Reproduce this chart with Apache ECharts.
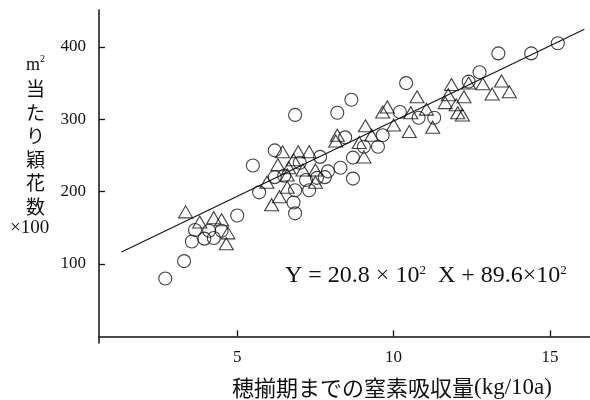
<!DOCTYPE html>
<html>
<head>
<meta charset="utf-8">
<script src="https://cdn.jsdelivr.net/npm/echarts@6/dist/echarts.min.js"></script>
<style>
  html, body { margin: 0; padding: 0; background: #fff; }
  #chart { width: 590px; height: 400px; }
</style>
</head>
<body>
<div id="chart"></div>
<script>
// Nitrogen uptake up to full heading (kg/10a) vs spikelets per m² (×100)
const circlePoints = [
  [2.7, 80], [3.3, 104], [3.55, 131], [3.95, 135], [4.25, 136], [3.65, 147],
  [4.1, 146], [4.5, 146], [5.0, 167], [5.5, 236], [5.7, 199], [6.2, 257],
  [6.2, 220], [6.85, 306], [6.8, 185], [6.85, 170], [6.85, 202], [7.2, 216],
  [7.3, 202], [7.55, 219], [7.65, 248], [7.8, 220], [8.2, 309], [8.3, 233],
  [8.45, 275], [8.65, 327], [8.7, 218], [8.7, 247], [9.05, 262], [9.5, 262],
  [9.65, 278], [10.2, 310], [10.4, 350], [10.8, 302], [11.3, 302], [12.4, 352],
  [12.75, 365], [13.35, 391], [14.4, 391], [15.25, 405], [7.0, 240], [7.9, 228],
  [6.5, 222]
];
const trianglePoints = [
  [3.35, 172], [3.8, 158], [4.25, 164], [4.5, 161], [4.7, 143], [4.65, 128],
  [5.95, 213], [6.1, 182], [6.35, 193], [6.6, 206], [6.3, 237], [6.45, 255],
  [6.65, 233], [6.8, 244], [6.6, 223], [6.95, 255], [7.1, 230], [7.3, 255],
  [7.5, 230], [7.5, 213], [8.15, 270], [8.2, 278], [8.9, 268], [9.1, 291],
  [9.05, 248], [9.3, 278], [9.65, 310], [9.8, 317], [10.0, 292], [10.5, 283],
  [10.55, 309], [10.75, 331], [11.05, 314], [11.25, 289], [11.65, 323],
  [11.75, 334], [11.85, 348], [12.0, 320], [12.05, 309], [12.2, 306],
  [12.25, 331], [12.4, 350], [12.85, 349], [13.15, 335], [13.45, 353], [13.7, 338]
];
// Regression: Y = 20.8×10² X + 89.6×10²  (Y in ×100 units)
const slope = 20.8;
const intercept = 89.6;
const fitRange = [1.3, 16.1];
const xTicks = [5, 10, 15];
const yTicks = [100, 200, 300, 400];

const fitLine = fitRange.map(x => [x, slope * x + intercept]);

const serif = '"Liberation Serif", "DejaVu Serif", serif';
const jp = '"Noto Sans CJK JP", sans-serif';

const chart = echarts.init(document.getElementById('chart'));
chart.setOption({
  animation: false,
  backgroundColor: '#fff',
  grid: { left: 99, top: 10, width: 491, height: 333, containLabel: false },
  xAxis: {
    type: 'value', min: 0.58, max: 16.28,
    axisLine: { show: true, lineStyle: { color: '#111', width: 1.5 } },
    axisTick: { show: true, inside: true, length: 6, customValues: xTicks, lineStyle: { color: '#111', width: 1.3 } },
    axisLabel: { customValues: xTicks, color: '#111', fontFamily: serif, fontSize: 17, margin: 6 },
    splitLine: { show: false }
  },
  yAxis: {
    type: 'value', min: -9.2, max: 451,
    axisLine: { show: true, lineStyle: { color: '#111', width: 1.5 } },
    axisTick: { show: true, inside: true, length: 6, customValues: yTicks, lineStyle: { color: '#111', width: 1.3 } },
    axisLabel: { customValues: yTicks, color: '#111', fontFamily: serif, fontSize: 17, margin: 13 },
    splitLine: { show: false }
  },
  series: [
    {
      type: 'line', data: fitLine, symbol: 'none',
      lineStyle: { color: '#111', width: 1.1 }, z: 1
    },
    {
      type: 'scatter', data: circlePoints, symbol: 'circle', symbolSize: 13,
      itemStyle: { color: 'rgba(0,0,0,0)', borderColor: '#111', borderWidth: 1.1 }, z: 2
    },
    {
      type: 'scatter', data: trianglePoints, symbol: 'triangle', symbolSize: [14, 12],
      itemStyle: { color: 'rgba(0,0,0,0)', borderColor: '#111', borderWidth: 1.1 }, z: 2
    }
  ],
  graphic: [
    {
      // vertical y-axis title, one character per line
      type: 'text', left: 26, top: 54,
      style: {
        text: 'm{sup|2}\n{jp|当}\n{jp|た}\n{jp|り}\n{jp|穎}\n{jp|花}\n{jp|数}',
        fill: '#111', font: '18px ' + serif, lineHeight: 23.5,
        rich: {
          sup: { fontSize: 10, verticalAlign: 'top', fontFamily: serif, padding: [0, 0, 8, 0] },
          jp: { fontSize: 19, fontFamily: jp, lineHeight: 23.5 }
        }
      }
    },
    {
      type: 'text', left: 10, top: 219,
      style: { text: '×100', fill: '#111', font: '19px ' + serif }
    },
    {
      type: 'text', left: 232, top: 376,
      style: {
        text: '{jp|穂揃期までの窒素吸収量}(kg/10a)',
        fill: '#111', font: '23px ' + serif,
        rich: { jp: { fontSize: 22, fontFamily: jp } }
      }
    },
    {
      type: 'text', left: 285, top: 264,
      style: {
        text: 'Y = 20.8 × 10{sup|2}  X + 89.6×10{sup|2}',
        fill: '#111', font: '24px ' + serif,
        rich: { sup: { fontSize: 13, fontFamily: serif, verticalAlign: 'top', padding: [0, 0, 11, 0] } }
      }
    }
  ]
});
</script>
</body>
</html>
